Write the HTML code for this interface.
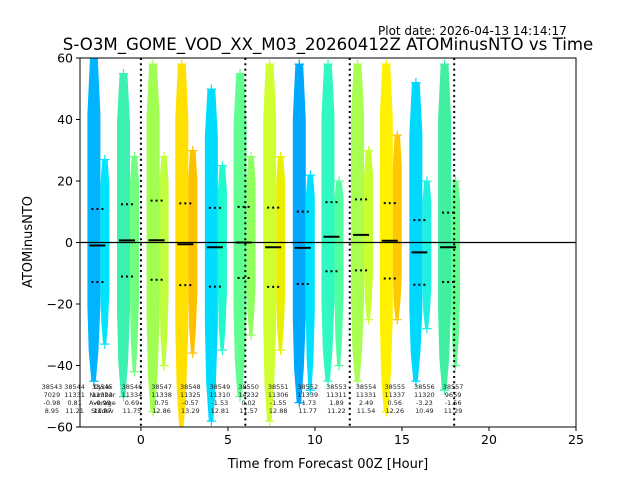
<!DOCTYPE html>
<html><head><meta charset="utf-8"><style>
body{margin:0;background:#fff;}
svg{display:block;font-family:"DejaVu Sans","Liberation Sans",sans-serif;}
</style></head><body>
<svg id="chart" width="640" height="480" viewBox="0 0 640 480" xmlns="http://www.w3.org/2000/svg">
<rect width="640" height="480" fill="#fff"/>
<text x="378" y="35" font-size="12">Plot date: 2026-04-13 14:14:17</text>
<text x="328" y="50" font-size="16.6" text-anchor="middle">S-O3M_GOME_VOD_XX_M03_20260412Z ATOMinusNTO vs Time</text>
<text x="328" y="468" font-size="13" text-anchor="middle">Time from Forecast 00Z [Hour]</text>
<text x="32" y="242" font-size="13" text-anchor="middle" transform="rotate(-90 32 242)">ATOMinusNTO</text>
<defs><clipPath id="pc"><rect x="80" y="58" width="496" height="369"/></clipPath></defs>
<g id="marks" clip-path="url(#pc)"></g>
<g id="labels"></g>
<g id="axes"></g>
</svg>
<script>
const cycles = ["38543","38544","38545","38546","38547","38548","38549","38550","38551","38552","38553","38554","38555","38556","38557"];
const hours = [-5.4,-4.1,-2.5,-0.8,0.9,2.55,4.25,5.9,7.6,9.3,10.95,12.65,14.3,16.0,17.65];
const counts = ["7029","11331","11323","11334","11338","11325","11310","14232","11306","11339","11311","11331","11337","11320","9659"];
const means = [-0.98,0.81,-0.99,0.69,0.75,-0.57,-1.53,0.02,-1.55,-1.73,1.89,2.49,0.56,-3.23,-1.56];
const stds = [8.95,11.21,11.87,11.75,12.86,13.29,12.81,11.57,12.88,11.77,11.22,11.54,12.26,10.49,11.29];
const leftTop = [null,null,60,55,58,58,50,55,58,58,58,58,58,52,58];
const leftBot = [null,null,-45,-50,-55,-60,-58,-50,-58,-52,-45,-45,-55,-45,-48];
const rightTop = [null,null,27,28,28,30,25,28,28,22,20,30,35,20,20];
const rightBot = [null,null,-33,-42,-40,-36,-35,-30,-35,-48,-40,-25,-25,-28,-40];
const leftColor = [null,null,"#00b4ff","#3cf0b0","#a0ff50","#ffe000","#00dcff","#60ff90","#d0ff30","#00a8ff","#30f8c0","#a8ff50","#fff000","#00d8ff","#40f0a0"];
const rightColor = [null,null,"#00e4ff","#70ff80","#c0ff40","#ffc000","#20f8d0","#90ff60","#e8f000","#00e0ff","#50ffa0","#c8ff30","#ffc800","#20f0e0","#60ff90"];
const xTicks = [0,5,10,15,20,25];
const yTicks = [-60,-40,-20,0,20,40,60];
const dayLines = [0,6,12,18];

const NS="http://www.w3.org/2000/svg";
const X0=80,X1=576,Y0=58,Y1=427;
const xs=h=>X0+(h+3.5)/(25+3.5)*(X1-X0);
const ys=v=>Y1-(v+60)/120*(Y1-Y0);
function mk(tag,attrs,parent){const e=document.createElementNS(NS,tag);for(const k in attrs)e.setAttribute(k,attrs[k]);parent.appendChild(e);return e;}
const marks=document.getElementById('marks'),labels=document.getElementById('labels'),axes=document.getElementById('axes');

function strip(x0,w,top,bot,mid,color,name){
  const yt=ys(top),yb=ys(bot),ym=ys(mid);
  const a=yt+(ym-yt)*0.3,b=ym+(yb-ym)*0.45;
  const pts=[[x0+w*0.2,yt],[x0+w*0.8,yt],[x0+w*0.9,yt+(a-yt)*0.5],[x0+w,a],[x0+w,b],[x0+w*0.85,yb-(yb-b)*0.4],[x0+w*0.65,yb],[x0+w*0.3,yb],[x0+w*0.1,yb-(yb-b)*0.4],[x0,b],[x0,a],[x0+w*0.1,yt+(a-yt)*0.5]];
  const p=mk('polygon',{points:pts.map(p=>p.join(',')).join(' '),fill:color},marks);
  
  
  [top,bot].forEach(v=>{
    const c=mk('text',{x:x0+w/2,y:ys(v)+5,'font-size':'15','text-anchor':'middle',fill:color},marks);
    c.textContent='+';
    
    
  });
}

for(let i=0;i<cycles.length;i++){
  const cx=xs(hours[i]);
  if(leftTop[i]!==null){
    strip(cx-10,13,leftTop[i],leftBot[i],means[i],leftColor[i],'scatter-strip-'+cycles[i]);
    strip(cx+3,9,rightTop[i],rightBot[i],means[i],rightColor[i],'scatter-strip-late-'+cycles[i]);
    const m=mk('line',{x1:cx-8,x2:cx+8,y1:ys(means[i]),y2:ys(means[i]),stroke:'#000','stroke-width':2},marks);
    
    
    [means[i]+stds[i],means[i]-stds[i]].forEach(v=>{
      const d=mk('line',{x1:cx-6,x2:cx+8,y1:ys(v),y2:ys(v),stroke:'#000','stroke-width':2,'stroke-dasharray':'2,3'},marks);
      
      
    });
  }
  const tx=cx+5;
  const vals=[cycles[i],counts[i],means[i].toFixed(2),stds[i].toFixed(2)];
  vals.forEach((v,j)=>{
    const t=mk('text',{x:tx,y:389+j*8,'font-size':'6.5','text-anchor':'middle',fill:'#222'},labels);
    t.textContent=v;
    
    
  });
}
['Cycle','Number','Average','Stddev'].forEach((v,j)=>{
  const t=mk('text',{x:xs(hours[2])+5,y:389+j*8,'font-size':'6.5','text-anchor':'middle',fill:'#222'},labels);
  t.textContent=v;
  
  
});

dayLines.forEach(h=>{
  const l=mk('line',{x1:xs(h),x2:xs(h),y1:Y0,y2:Y1,stroke:'#000','stroke-width':2,'stroke-dasharray':'2,3.3'},axes);
  
  
});
const z=mk('line',{x1:X0,x2:X1,y1:ys(0),y2:ys(0),stroke:'#000','stroke-width':1.3},axes);


const fr=mk('rect',{x:X0,y:Y0,width:X1-X0,height:Y1-Y0,fill:'none',stroke:'#000','stroke-width':1},axes);


xTicks.forEach(v=>{
  const x=xs(v);
  const t=mk('line',{x1:x,x2:x,y1:Y1,y2:Y1+4,stroke:'#000'},axes);
  
  
  const s=mk('text',{x:x,y:Y1+17,'font-size':'12.5','text-anchor':'middle'},axes);
  s.textContent=v;
  
  
});
yTicks.forEach(v=>{
  const y=ys(v);
  const t=mk('line',{x1:X0-4,x2:X0,y1:y,y2:y,stroke:'#000'},axes);
  
  
  const s=mk('text',{x:X0-7,y:y+4.5,'font-size':'12.5','text-anchor':'end'},axes);
  s.textContent=v<0?'\u2212'+Math.abs(v):v;
  
  
});
</script>
</body></html>
